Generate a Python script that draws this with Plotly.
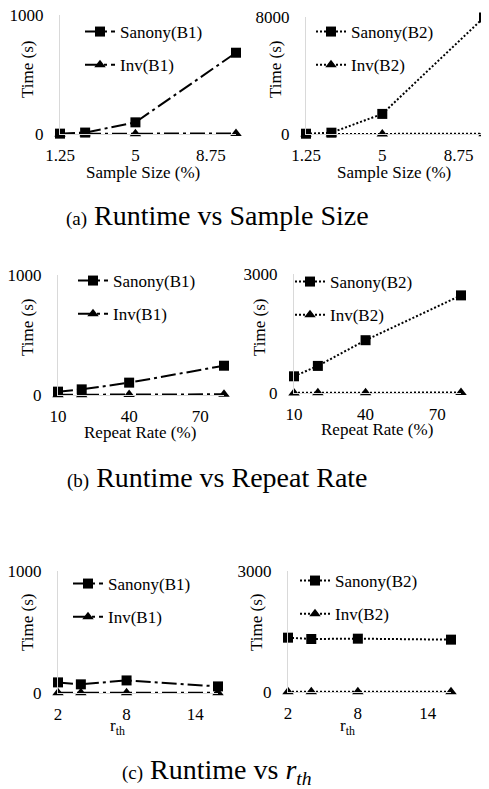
import plotly.graph_objects as go

PAGE_MARGIN = 8  # browser default body margin
W, H = 489 - PAGE_MARGIN, 789 - PAGE_MARGIN
FONT = "Liberation Serif"

# ---------------- data ----------------
x_sample = [1.25, 2.5, 5, 10]
sanony_b1_sample = [3, 12, 98, 683]
inv_b1_sample = [1, 2, 3, 5]
sanony_b2_sample = [20, 90, 1370, 7950]
inv_b2_sample = [2, 4, 8, 15]

x_repeat = [10, 20, 40, 80]
sanony_b1_repeat = [28, 47, 103, 244]
inv_b1_repeat = [2, 3, 4, 6]
sanony_b2_repeat = [421, 683, 1331, 2461]
inv_b2_repeat = [3, 5, 8, 12]

x_rth = [2, 4, 8, 16]
sanony_b1_rth = [87, 71, 103, 54]
inv_b1_rth = [2, 2, 2, 2]
sanony_b2_rth = [1347, 1314, 1322, 1298]
inv_b2_rth = [5, 5, 5, 5]

xticks_sample = [1.25, 5, 8.75]
xticks_repeat = [10, 40, 70]
xticks_rth = [2, 8, 14]

xtitle_sample = "Sample Size (%)"
xtitle_repeat = "Repeat Rate (%)"
xtitle_rth = "r<sub>th</sub>"
ytitle = "Time (s)"
captions = [
    "<span style='font-size:19px'>(a)</span> Runtime vs Sample Size",
    "<span style='font-size:19px'>(b)</span> Runtime vs Repeat Rate",
    "<span style='font-size:19px'>(c)</span> Runtime vs <i>r<sub>th</sub></i>",
]

# ---------------- layout geometry (page pixels) ----------------
panels = [
    dict(x=x_sample, s=sanony_b1_sample, i=inv_b1_sample, names=("Sanony(B1)", "Inv(B1)"), dash="15px,4px,3px,4px",
         xpx=(60, 236), ypx=(15, 134), xr=[1.25, 10], ymax=1000, xt=xticks_sample, xtitle=xtitle_sample,
         xt_pos=(143, 172), yt_pos=(28, 70), leg=(80, 14)),
    dict(x=x_sample, s=sanony_b2_sample, i=inv_b2_sample, names=("Sanony(B2)", "Inv(B2)"), dash="2px,2px",
         xpx=(306, 484), ypx=(16.7, 134), xr=[1.25, 10], ymax=8000, xt=xticks_sample, xtitle=xtitle_sample,
         xt_pos=(394, 172), yt_pos=(276, 70), leg=(311, 14)),
    dict(x=x_repeat, s=sanony_b1_repeat, i=inv_b1_repeat, names=("Sanony(B1)", "Inv(B1)"), dash="15px,4px,3px,4px",
         xpx=(58, 224), ypx=(275, 395), xr=[10, 80], ymax=1000, xt=xticks_repeat, xtitle=xtitle_repeat,
         xt_pos=(140, 432), yt_pos=(27, 328), leg=(73, 263)),
    dict(x=x_repeat, s=sanony_b2_repeat, i=inv_b2_repeat, names=("Sanony(B2)", "Inv(B2)"), dash="2px,2px",
         xpx=(294, 461), ypx=(274, 393), xr=[10, 80], ymax=3000, xt=xticks_repeat, xtitle=xtitle_repeat,
         xt_pos=(377, 430), yt_pos=(259, 328), leg=(290, 264)),
    dict(x=x_rth, s=sanony_b1_rth, i=inv_b1_rth, names=("Sanony(B1)", "Inv(B1)"), dash="15px,4px,3px,4px",
         xpx=(58, 218), ypx=(571, 693), xr=[2, 16], ymax=1000, xt=xticks_rth, xtitle=xtitle_rth,
         xt_pos=(117, 727), yt_pos=(27, 623), leg=(68, 566)),
    dict(x=x_rth, s=sanony_b2_rth, i=inv_b2_rth, names=("Sanony(B2)", "Inv(B2)"), dash="2px,2px",
         xpx=(288, 451), ypx=(571, 692), xr=[2, 16], ymax=3000, xt=xticks_rth, xtitle=xtitle_rth,
         xt_pos=(347, 727), yt_pos=(256, 623), leg=(295, 563)),
]

fig = go.Figure()
layout = dict(
    template="none",
    width=W, height=H, margin=dict(l=0, r=0, t=0, b=0, pad=0, autoexpand=False),
    paper_bgcolor="white", plot_bgcolor="white",
    font=dict(family=FONT, size=17, color="black"),
    annotations=[],
)

def px_x(p):
    return (p - PAGE_MARGIN) / W

def px_y(p):
    return 1 - (p - PAGE_MARGIN) / H

for k, p in enumerate(panels):
    n = k + 1
    xa = "x" if n == 1 else f"x{n}"
    ya = "y" if n == 1 else f"y{n}"
    lg = "legend" if n == 1 else f"legend{n}"
    for j, (vals, sym) in enumerate(((p["s"], "square"), (p["i"], "triangle-up"))):
        fig.add_trace(go.Scatter(
            x=p["x"], y=vals, name=p["names"][j], mode="lines+markers",
            line=dict(color="black", width=2, dash=p["dash"]),
            marker=dict(symbol=sym, size=10, color="black"),
            xaxis=xa, yaxis=ya, legend=lg, legendgroup=f"g{n}_{j}",
            cliponaxis=False,
        ))
    layout[f"xaxis{'' if n == 1 else n}"] = dict(
        domain=[px_x(p["xpx"][0]), px_x(p["xpx"][1])], range=p["xr"], anchor=ya, automargin=False,
        tickvals=p["xt"], ticktext=[f"{v:g}" for v in p["xt"]], ticklabeloverflow="allow",
        showgrid=False, zeroline=False, showline=True, linecolor="#d9d9d9", linewidth=1,
        ticks="", ticklabelstandoff=6, tickfont=dict(size=17, family=FONT, color="black"),
    )
    layout[f"yaxis{'' if n == 1 else n}"] = dict(
        domain=[px_y(p["ypx"][1]), px_y(p["ypx"][0])], range=[0, p["ymax"]], anchor=xa, automargin=False,
        tickvals=[0, p["ymax"]], showgrid=False, zeroline=False, showline=True, ticklabeloverflow="allow",
        linecolor="#d9d9d9", linewidth=1, ticks="", ticklabelstandoff=12,
        tickfont=dict(size=17, family=FONT, color="black"),
    )
    layout[lg] = dict(
        x=px_x(p["leg"][0]), y=px_y(p["leg"][1]), xanchor="left", yanchor="top",
        bgcolor="rgba(0,0,0,0)", borderwidth=0, traceorder="grouped", tracegroupgap=8,
        font=dict(size=17, family=FONT, color="black"),
    )
    layout["annotations"].append(dict(
        text=p["xtitle"], x=px_x(p["xt_pos"][0]), y=px_y(p["xt_pos"][1]), xref="paper", yref="paper",
        xanchor="center", yanchor="middle", showarrow=False, font=dict(size=17, family=FONT, color="black")))
    layout["annotations"].append(dict(
        text=ytitle, x=px_x(p["yt_pos"][0]), y=px_y(p["yt_pos"][1]), xref="paper", yref="paper",
        xanchor="center", yanchor="middle", showarrow=False, textangle=-90,
        font=dict(size=17, family=FONT, color="black")))

for txt, cy in zip(captions, (216, 477, 771)):
    layout["annotations"].append(dict(
        text=txt, x=px_x(217), y=px_y(cy), xref="paper", yref="paper", xanchor="center", yanchor="middle",
        showarrow=False, font=dict(size=28, family=FONT, color="black")))

fig.update_layout(**layout)
fig.write_html("out.html")
